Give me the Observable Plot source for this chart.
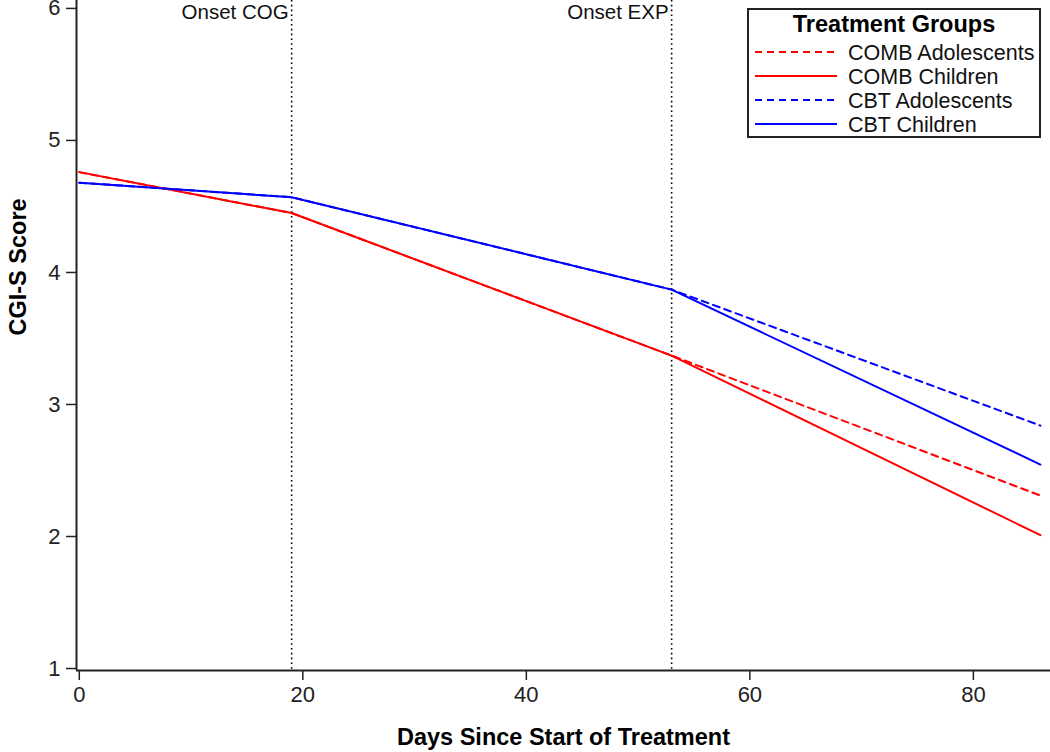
<!DOCTYPE html>
<html>
<head>
<meta charset="utf-8">
<script src="https://cdn.jsdelivr.net/npm/d3@7"></script>
<script src="https://cdn.jsdelivr.net/npm/@observablehq/plot@0.6"></script>
<style>
  html, body { margin: 0; padding: 0; background: #fff; }
  #chart { position: relative; width: 1050px; height: 752px; }
  svg { font-family: "Liberation Sans", Arial, sans-serif; }
</style>
</head>
<body>
<div id="chart"></div>
<script>
// ---- data ----
const days = [0, 19, 53, 86];
const combAdolescents = [4.76, 4.45, 3.37, 2.31];
const combChildren    = [4.76, 4.45, 3.37, 2.01];
const cbtAdolescents  = [4.68, 4.57, 3.87, 2.84];
const cbtChildren     = [4.68, 4.57, 3.87, 2.545];

const seriesNames  = ["COMB Adolescents", "COMB Children", "CBT Adolescents", "CBT Children"];
const seriesValues = [combAdolescents, combChildren, cbtAdolescents, cbtChildren];
const seriesColors = ["#ff0000", "#ff0000", "#0000ff", "#0000ff"];
const seriesDashed = [true, false, true, false];

const onsetDays   = [19, 53];
const onsetLabels = ["Onset COG", "Onset EXP"];

const xTicks = [0, 20, 40, 60, 80];
const yTicks = [1, 2, 3, 4, 5, 6];
const xDomain = [-0.25, 86.9];
const yDomain = [0.985, 6.06];

const xLabel = "Days Since Start of Treatment";
const yLabel = "CGI-S Score";
const legendTitle = "Treatment Groups";

// ---- build table ----
const rows = [];
seriesNames.forEach((name, i) => {
  days.forEach((d, j) => rows.push({series: name, day: d, value: seriesValues[i][j], idx: i}));
});
const onsets = onsetDays.map((d, i) => ({day: d, label: onsetLabels[i]}));

const dashedRows = rows.filter(r => seriesDashed[r.idx]);
const solidRows  = rows.filter(r => !seriesDashed[r.idx]);

const svg = Plot.plot({
  width: 1050,
  height: 752,
  marginLeft: 76,
  marginRight: 0,
  marginTop: 0,
  marginBottom: 82,
  style: {fontFamily: '"Liberation Sans", Arial, sans-serif', fontSize: "20px", background: "#fff"},
  x: {domain: xDomain},
  y: {domain: yDomain},
  marks: [
    Plot.ruleX(onsets, {x: "day", stroke: "#000", strokeWidth: 1.6, strokeDasharray: "1.6,3.2"}),
    Plot.text(onsets, {x: "day", text: "label", frameAnchor: "top", textAnchor: "end", lineAnchor: "top",
                       dx: -3, dy: 4, fontSize: 20.5, fill: "#111"}),
    Plot.line(dashedRows, {x: "day", y: "value", z: "series", stroke: d => seriesColors[d.idx],
                           strokeWidth: 2, strokeDasharray: "7,5"}),
    Plot.line(solidRows, {x: "day", y: "value", z: "series", stroke: d => seriesColors[d.idx],
                          strokeWidth: 2}),
    Plot.ruleX([xDomain[0]], {stroke: "#222", strokeWidth: 2}),
    Plot.ruleY([yDomain[0]], {stroke: "#222", strokeWidth: 2}),
    Plot.axisY({ticks: yTicks, tickFormat: d3.format("d"), tickSize: 10, tickPadding: 6, fontSize: 22,
                label: null, stroke: "#222", strokeWidth: 1.5, fill: "#222"}),
    Plot.axisX({ticks: xTicks, tickFormat: d3.format("d"), tickSize: 10, tickPadding: 6, fontSize: 22,
                label: null, stroke: "#222", strokeWidth: 1.5, fill: "#222"}),
    Plot.text([xLabel], {frameAnchor: "bottom", dy: 74, fontSize: 23.5, fontWeight: "bold", fill: "#000"}),
    Plot.text([yLabel], {frameAnchor: "left", rotate: -90, dx: -58, fontSize: 23.5, fontWeight: "bold", fill: "#000"})
  ]
});

document.getElementById("chart").appendChild(svg);

// ---- legend (inside plot, top right) ----
const lg = d3.select(svg).append("g").attr("class", "legend");
lg.append("rect").attr("x", 748).attr("y", 9).attr("width", 292).attr("height", 128)
  .attr("fill", "#fff").attr("stroke", "#222").attr("stroke-width", 2);
lg.append("text").attr("x", 894).attr("y", 32).attr("text-anchor", "middle")
  .attr("font-size", 23.5).attr("font-weight", "bold").attr("fill", "#000").text(legendTitle);
const rowY = [52, 76, 100, 124];
seriesNames.forEach((name, i) => {
  lg.append("line").attr("x1", 755).attr("x2", 837).attr("y1", rowY[i]).attr("y2", rowY[i])
    .attr("stroke", seriesColors[i]).attr("stroke-width", 2)
    .attr("stroke-dasharray", seriesDashed[i] ? "7,5" : null);
  lg.append("text").attr("x", 848).attr("y", rowY[i]).attr("dy", "0.35em")
    .attr("text-anchor", "start")
    .attr("font-size", 21.5).attr("fill", "#111").text(name);
});
</script>
</body>
</html>
